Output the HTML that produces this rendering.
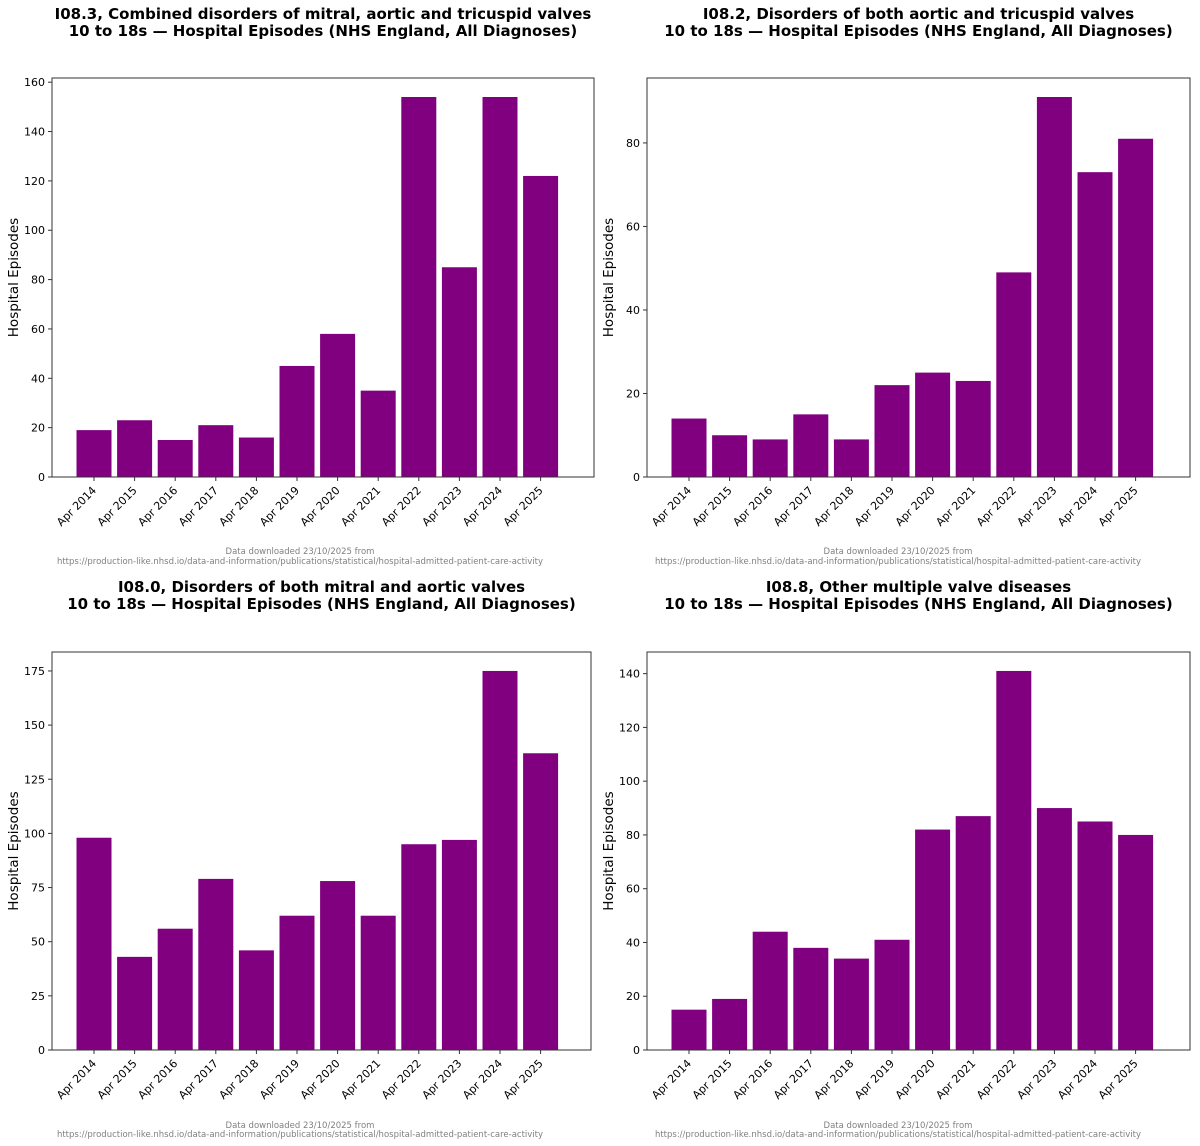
<!DOCTYPE html>
<html><head><meta charset="utf-8">
<style>
html,body{margin:0;padding:0;background:#fff;}
svg{display:block;font-family:"DejaVu Sans","Liberation Sans",sans-serif;}
</style></head>
<body>
<svg id="fig" width="1200" height="1146" viewBox="0 0 1200 1146" xmlns="http://www.w3.org/2000/svg"></svg>
<script>
const categories = ["Apr 2014","Apr 2015","Apr 2016","Apr 2017","Apr 2018","Apr 2019","Apr 2020","Apr 2021","Apr 2022","Apr 2023","Apr 2024","Apr 2025"];
const valuesI083 = [19,23,15,21,16,45,58,35,154,85,154,122];
const valuesI082 = [14,10,9,15,9,22,25,23,49,91,73,81];
const valuesI080 = [98,43,56,79,46,62,78,62,95,97,175,137];
const valuesI088 = [15,19,44,38,34,41,82,87,141,90,85,80];
const ticksI083 = [0,20,40,60,80,100,120,140,160];
const ticksI082 = [0,20,40,60,80];
const ticksI080 = [0,25,50,75,100,125,150,175];
const ticksI088 = [0,20,40,60,80,100,120,140];
const titlesI083 = ["I08.3, Combined disorders of mitral, aortic and tricuspid valves","10 to 18s \u2014 Hospital Episodes (NHS England, All Diagnoses)"];
const titlesI082 = ["I08.2, Disorders of both aortic and tricuspid valves","10 to 18s \u2014 Hospital Episodes (NHS England, All Diagnoses)"];
const titlesI080 = ["I08.0, Disorders of both mitral and aortic valves","10 to 18s \u2014 Hospital Episodes (NHS England, All Diagnoses)"];
const titlesI088 = ["I08.8, Other multiple valve diseases","10 to 18s \u2014 Hospital Episodes (NHS England, All Diagnoses)"];

const NS="http://www.w3.org/2000/svg";
const svg=document.getElementById('fig');
function mk(tag,attrs,parent,text){const e=document.createElementNS(NS,tag);for(const k in attrs)e.setAttribute(k,attrs[k]);if(text!==undefined)e.textContent=text;(parent||svg).appendChild(e);return e;}

const panels=[
 {id:'i083',vals:valuesI083,ticks:ticksI083,titles:titlesI083,L:52,R:594,T:78,B:477,x0:94,ty:[14,31],fy:[551,561],fx:300},
 {id:'i082',vals:valuesI082,ticks:ticksI082,titles:titlesI082,L:647,R:1190,T:78,B:477,x0:689,ty:[14,31],fy:[551,561],fx:898},
 {id:'i080',vals:valuesI080,ticks:ticksI080,titles:titlesI080,L:52,R:591,T:652,B:1050,x0:94,ty:[587,604],fy:[1125,1134],fx:300},
 {id:'i088',vals:valuesI088,ticks:ticksI088,titles:titlesI088,L:647,R:1190,T:652,B:1050,x0:689,ty:[587,604],fy:[1125,1134],fx:898}
];
const step=40.6, bw=35;
panels.forEach(p=>{
  const g=mk('g',{});
  
  
  const ymax=Math.max(...p.vals)*1.05;
  const yS=v=>p.B-(v/ymax)*(p.B-p.T);
  const xS=i=>p.x0+i*step;
  const cx=(p.L+p.R)/2;
  p.titles.forEach((t,k)=>{
    const tt=mk('text',{x:cx,y:p.ty[k]+5,'text-anchor':'middle','font-size':'15','font-weight':'bold',fill:'#000'},g,t);
    
    
  });
  p.vals.forEach((v,i)=>{
    const r=mk('rect',{x:xS(i)-bw/2,y:yS(v),width:bw,height:p.B-yS(v),fill:'#800080'},g);
    
    
  });
  const fr=mk('rect',{x:p.L,y:p.T,width:p.R-p.L,height:p.B-p.T,fill:'none',stroke:'#333','stroke-width':1},g);
  
  
  p.ticks.forEach(t=>{
    const y=yS(t);
    mk('line',{x1:p.L-4,x2:p.L,y1:y,y2:y,stroke:'#333'},g);
    const tl=mk('text',{x:p.L-7,y:y+4,'text-anchor':'end','font-size':'11',fill:'#000'},g,String(t));
    
    
  });
  categories.forEach((c,i)=>{
    const x=xS(i);
    mk('line',{x1:x,x2:x,y1:p.B,y2:p.B+4,stroke:'#333'},g);
    const tl=mk('text',{x:x+3,y:p.B+14,'text-anchor':'end','font-size':'11',fill:'#000',transform:`rotate(-45 ${x+3} ${p.B+14})`},g,c);
    
    
  });
  const yx=p.L-34, ym=(p.T+p.B)/2;
  const yt=mk('text',{x:yx,y:ym,'text-anchor':'middle','font-size':'13.5',fill:'#000',transform:`rotate(-90 ${yx} ${ym})`},g,'Hospital Episodes');
  
  
  const f1=mk('text',{x:p.fx,y:p.fy[0]+3,'text-anchor':'middle','font-size':'8.5',fill:'#808080'},g,'Data downloaded 23/10/2025 from');
  
  
  const f2=mk('text',{x:p.fx,y:p.fy[1]+3,'text-anchor':'middle','font-size':'8.5',fill:'#808080'},g,'https://production-like.nhsd.io/data-and-information/publications/statistical/hospital-admitted-patient-care-activity');
  
  
});
</script>
</body></html>
